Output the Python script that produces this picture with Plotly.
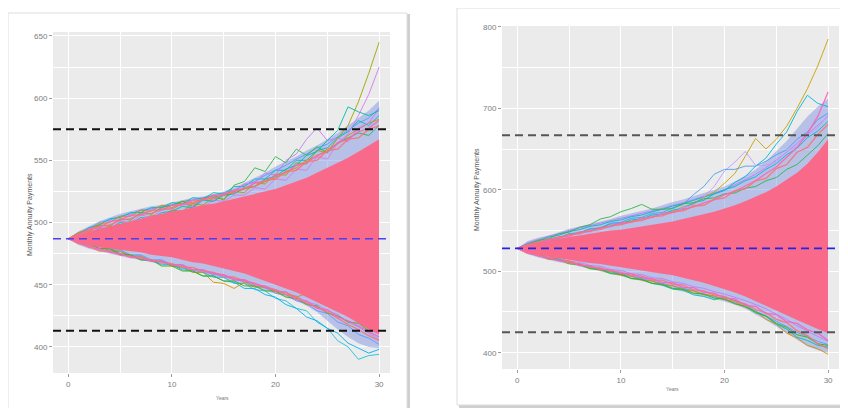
import plotly.graph_objects as go

W, H = 848, 408
years = list(range(31))

# ---------------- Left panel data ----------------
L_hline_hi, L_hline_lo, L_hline_mid = 575, 413, 487
L_core_up = [487, 490, 493, 495, 497, 499, 501, 503, 505, 507, 509, 510, 512, 514, 515, 517, 519, 521, 523, 525, 527, 530, 533, 536, 540, 544, 548, 552, 557, 562, 567]
L_core_lo = [487, 484, 482, 480, 479, 478, 477, 476, 474, 473, 472, 470, 468, 467, 465, 463, 461, 459, 456, 453, 450, 447, 444, 440, 436, 432, 428, 424, 419, 414, 410]
L_outer_up = [487, 493, 497, 501, 504, 507, 509, 511, 513, 514, 516, 518, 520, 521, 523, 525, 528, 532, 536, 540, 545, 549, 553, 558, 562, 567, 572, 578, 584, 590, 598]
L_outer_lo = [487, 482, 479, 477, 475, 473, 471, 470, 468, 467, 466, 463, 461, 459, 457, 455, 452, 450, 448, 445, 443, 440, 437, 433, 428, 421, 414, 408, 403, 400, 399]
L_green = [487, 491, 493, 498, 497, 503, 502, 508, 507, 512, 514, 517, 513, 519, 522, 518, 530, 533, 544, 541, 553, 548, 559, 554, 561, 556, 564, 568, 572, 570, 578]
L_purple = [487, 490, 491, 496, 495, 501, 500, 506, 504, 510, 511, 515, 513, 519, 517, 524, 525, 531, 532, 540, 538, 550, 555, 567, 576, 566, 568, 565, 576, 580, 592]
L_olive = [487, 489, 492, 493, 497, 496, 501, 500, 506, 505, 510, 509, 515, 514, 520, 519, 525, 524, 532, 531, 539, 538, 548, 547, 558, 556, 568, 578, 597, 620, 645]
L_violet = [487, 488, 492, 491, 496, 495, 500, 501, 505, 504, 509, 508, 513, 512, 518, 517, 522, 522, 528, 527, 535, 534, 543, 542, 553, 551, 564, 571, 586, 603, 625]
L_teal = [487, 490, 491, 495, 494, 500, 499, 504, 503, 508, 509, 513, 512, 518, 517, 522, 523, 528, 529, 535, 537, 543, 546, 554, 557, 566, 574, 593, 589, 586, 590]
L_blue_hi = [487, 492, 495, 500, 502, 505, 507, 510, 511, 513, 514, 517, 518, 520, 521, 524, 526, 530, 533, 538, 542, 546, 551, 555, 560, 563, 569, 574, 580, 584, 592]
L_teal_hi = [487, 491, 496, 498, 503, 504, 508, 508, 512, 512, 516, 515, 520, 519, 524, 523, 529, 529, 535, 535, 542, 542, 550, 550, 558, 560, 568, 573, 582, 578, 586]
L_orange_hi = [487, 492, 494, 499, 500, 505, 505, 510, 509, 514, 512, 517, 516, 519, 520, 522, 524, 527, 529, 533, 536, 541, 544, 550, 553, 559, 563, 570, 575, 580, 583]
L_cyan_lo = [487, 485, 482, 482, 477, 477, 473, 473, 469, 469, 465, 464, 460, 460, 456, 456, 451, 451, 446, 445, 439, 437, 431, 429, 420, 415, 405, 400, 390, 393, 394]
L_cyan2_lo = [487, 484, 483, 479, 479, 474, 474, 470, 470, 466, 466, 462, 461, 457, 457, 453, 452, 447, 447, 442, 440, 434, 431, 424, 421, 415, 411, 403, 399, 395, 398]
L_orange_lo = [487, 485, 481, 481, 477, 477, 473, 473, 469, 469, 465, 465, 460, 460, 452, 451, 447, 452, 448, 448, 444, 444, 440, 443, 437, 435, 429, 428, 422, 420, 416]
L_blue_lo = [487, 486, 482, 482, 478, 478, 474, 474, 470, 470, 466, 466, 462, 462, 458, 458, 454, 453, 449, 448, 443, 442, 437, 435, 429, 427, 420, 417, 410, 407, 402]
L_green_lo = [487, 484, 483, 479, 479, 475, 474, 470, 470, 465, 465, 461, 461, 457, 457, 453, 453, 449, 449, 445, 445, 440, 439, 434, 433, 427, 425, 420, 419, 413, 412]
L_purple_lo = [487, 483, 481, 478, 477, 474, 473, 470, 469, 467, 466, 463, 462, 460, 459, 456, 455, 452, 451, 447, 446, 442, 441, 436, 434, 429, 426, 420, 416, 411, 406]
L_pink_hi = [487, 490, 495, 496, 501, 502, 506, 506, 510, 510, 514, 514, 518, 518, 522, 522, 526, 527, 532, 533, 538, 540, 546, 548, 554, 557, 564, 567, 573, 576, 582]
L_pink_hi2 = [487, 491, 493, 497, 498, 502, 503, 507, 507, 511, 511, 515, 515, 519, 519, 523, 524, 528, 529, 534, 535, 541, 542, 549, 550, 558, 559, 567, 568, 575, 578]
L_pink_lo = [487, 483, 481, 477, 477, 474, 473, 471, 470, 468, 467, 464, 464, 461, 460, 457, 456, 453, 451, 448, 446, 442, 440, 435, 432, 428, 423, 418, 414, 409, 405]
L_pink_lo2 = [487, 484, 480, 479, 476, 475, 472, 472, 469, 469, 466, 466, 462, 462, 459, 458, 454, 454, 450, 449, 445, 444, 438, 437, 431, 430, 424, 421, 417, 412, 408]

# ---------------- Right panel data ----------------
R_hline_hi, R_hline_lo, R_hline_mid = 667, 425, 528
R_core_up = [528, 532, 535, 538, 540, 542, 544, 546, 548, 550, 551, 553, 555, 557, 559, 561, 564, 567, 570, 573, 577, 581, 586, 591, 597, 604, 612, 621, 632, 646, 662]
R_core_lo = [528, 523, 520, 518, 516, 514, 512, 510, 509, 507, 505, 503, 501, 499, 497, 495, 492, 489, 486, 482, 478, 474, 469, 464, 458, 452, 446, 440, 434, 429, 424]
R_outer_up = [528, 537, 541, 544, 548, 552, 555, 558, 561, 564, 568, 571, 574, 577, 581, 585, 588, 592, 596, 600, 604, 610, 617, 625, 635, 648, 660, 675, 690, 702, 712]
R_outer_lo = [528, 521, 517, 514, 511, 509, 506, 503, 500, 497, 494, 491, 488, 485, 482, 478, 475, 472, 469, 466, 463, 459, 454, 447, 440, 433, 425, 416, 408, 403, 400]
R_yellow = [528, 531, 536, 537, 542, 543, 548, 549, 554, 555, 560, 561, 566, 566, 571, 573, 579, 582, 591, 597, 608, 620, 641, 663, 650, 662, 678, 700, 724, 752, 785]
R_cyan = [528, 533, 535, 540, 541, 546, 547, 552, 553, 558, 558, 563, 564, 569, 570, 575, 577, 584, 587, 595, 599, 609, 616, 629, 639, 656, 671, 696, 716, 706, 702]
R_lavender = [528, 531, 535, 536, 541, 542, 547, 548, 553, 554, 559, 560, 565, 566, 571, 572, 578, 581, 591, 604, 623, 634, 647, 630, 630, 634, 647, 653, 667, 676, 692]
R_blue = [528, 533, 534, 539, 540, 546, 547, 552, 553, 559, 560, 565, 566, 571, 572, 578, 582, 594, 604, 619, 625, 625, 629, 629, 635, 643, 649, 662, 671, 686, 694]
R_green = [528, 533, 538, 540, 546, 548, 554, 557, 564, 567, 573, 577, 582, 576, 576, 577, 583, 584, 589, 590, 595, 596, 602, 604, 611, 615, 625, 631, 643, 654, 669]
R_purple_hi = [528, 535, 539, 543, 546, 550, 553, 556, 559, 562, 565, 568, 571, 574, 577, 581, 584, 588, 592, 596, 600, 606, 612, 619, 627, 636, 646, 657, 668, 680, 690]
R_teal_hi = [528, 534, 537, 542, 544, 549, 551, 555, 557, 561, 563, 567, 569, 573, 576, 580, 583, 587, 591, 595, 600, 604, 611, 616, 625, 632, 643, 651, 664, 672, 684]
R_orange_lo = [528, 524, 520, 519, 514, 513, 508, 506, 501, 500, 495, 494, 489, 488, 483, 482, 477, 476, 471, 470, 465, 463, 456, 451, 441, 435, 424, 418, 409, 405, 398]
R_cyan_lo = [528, 524, 521, 516, 515, 510, 509, 504, 503, 498, 497, 491, 490, 485, 483, 478, 477, 471, 469, 465, 468, 464, 459, 450, 445, 435, 429, 419, 415, 409, 407]
R_green_lo = [528, 523, 520, 515, 514, 509, 508, 503, 502, 497, 496, 491, 490, 485, 484, 479, 478, 473, 472, 467, 466, 460, 457, 449, 445, 436, 431, 422, 419, 411, 409]
R_blue_lo = [528, 522, 519, 516, 513, 511, 508, 505, 503, 500, 497, 494, 491, 488, 485, 482, 479, 476, 472, 469, 465, 461, 456, 451, 445, 439, 432, 425, 419, 414, 410]
R_purple_lo = [528, 523, 521, 517, 516, 512, 511, 507, 506, 502, 501, 497, 496, 492, 491, 487, 485, 481, 479, 475, 472, 468, 464, 459, 454, 447, 441, 433, 426, 420, 414]
R_pink_hi = [528, 532, 536, 537, 542, 543, 548, 549, 553, 555, 559, 560, 564, 566, 570, 572, 576, 579, 584, 588, 594, 598, 605, 611, 620, 628, 640, 652, 669, 690, 720]
R_pink_hi2 = [528, 533, 535, 540, 541, 545, 546, 550, 551, 556, 557, 561, 562, 567, 568, 573, 574, 580, 581, 588, 590, 599, 601, 611, 614, 626, 631, 646, 652, 668, 680]
R_pink_lo = [528, 522, 520, 515, 514, 510, 509, 505, 504, 500, 499, 495, 494, 489, 489, 484, 483, 477, 476, 471, 469, 463, 460, 453, 449, 441, 437, 427, 421, 411, 405]
R_pink_lo2 = [528, 523, 519, 517, 513, 512, 507, 507, 502, 502, 497, 497, 492, 491, 486, 486, 480, 480, 474, 473, 467, 466, 458, 457, 448, 447, 438, 436, 428, 424, 415]

L_yticks = [400, 450, 500, 550, 600, 650]
R_yticks = [400, 500, 600, 700, 800]
x_ticks = [0, 10, 20, 30]
y_title = "Monthly Annuity Payments"
x_title = "Years"

CORE = "#F96A8A"
FRINGE = "rgba(120,140,225,0.45)"

fig = go.Figure()

def band(up, lo, color, xa, ya):
    fig.add_trace(go.Scatter(x=years + years[::-1], y=up + lo[::-1], fill="toself",
                             fillcolor=color, line=dict(width=0), mode="lines",
                             hoverinfo="skip", showlegend=False, xaxis=xa, yaxis=ya))

def path(vals, color, xa, ya, w=1.0, op=0.9):
    fig.add_trace(go.Scatter(x=years, y=vals, mode="lines", line=dict(color=color, width=w),
                             opacity=op, hoverinfo="skip", showlegend=False, xaxis=xa, yaxis=ya))

# left panel
band(L_outer_up, L_outer_lo, FRINGE, "x", "y")
for vals, col in [(L_blue_hi, "#619CFF"), (L_teal_hi, "#00BFC4"), (L_orange_hi, "#E58700"),
                  (L_green, "#2DB84B"), (L_purple, "#C77CFF"), (L_olive, "#A3A500"), (L_violet, "#D77BF0"),
                  (L_teal, "#00BFA8"), (L_purple_lo, "#B983FF"), (L_cyan_lo, "#1FC3D8"), (L_cyan2_lo, "#00B0F6"),
                  (L_orange_lo, "#D89000"), (L_blue_lo, "#619CFF"), (L_green_lo, "#39B600")]:
    path(vals, col, "x", "y")
band(L_core_up, L_core_lo, CORE, "x", "y")
for vals, col in [(L_pink_hi, "#FF62BC"), (L_pink_hi2, "#F8766D"), (L_pink_lo, "#F8766D"), (L_pink_lo2, "#FF62BC")]:
    path(vals, col, "x", "y", 1.3, 0.9)

# right panel
band(R_outer_up, R_outer_lo, FRINGE, "x2", "y2")
for vals, col in [(R_purple_hi, "#C77CFF"), (R_teal_hi, "#00BFC4"),
                  (R_yellow, "#C9A300"), (R_cyan, "#00B8E0"), (R_lavender, "#C59BFF"), (R_blue, "#4FA0F0"),
                  (R_green, "#2DB84B"), (R_blue_lo, "#619CFF"), (R_purple_lo, "#B983FF"),
                  (R_orange_lo, "#D89000"), (R_cyan_lo, "#00BFC4"), (R_green_lo, "#39B600")]:
    path(vals, col, "x2", "y2")
band(R_core_up, R_core_lo, CORE, "x2", "y2")
for vals, col in [(R_pink_hi, "#FF62BC"), (R_pink_hi2, "#F8766D"), (R_pink_lo, "#F8766D"), (R_pink_lo2, "#FF62BC")]:
    path(vals, col, "x2", "y2", 1.3, 0.9)

# the page body adds an 8px margin, so window pixels are offset by 8
OFF = 8

def px(x):
    return (x - OFF) / W

def py(y):
    return 1 - (y - OFF) / H

shapes = []
# cards with shadows
for (x0, y0, x1, y1) in [(8, 13, 407, 412), (457, 8, 846, 405)]:
    shapes.append(dict(type="rect", xref="paper", yref="paper", x0=px(x0 + 2), x1=px(x1 + 3),
                       y0=py(y1 + 3), y1=py(y0 + 1), fillcolor="#cfcfcf", line=dict(width=0), layer="below"))
    shapes.append(dict(type="rect", xref="paper", yref="paper", x0=px(x0), x1=px(x1),
                       y0=py(y1), y1=py(y0), fillcolor="white", line=dict(color="#dddddd", width=1), layer="below"))
# panel backgrounds
for xr, yr in [("x", "y"), ("x2", "y2")]:
    shapes.append(dict(type="rect", xref=xr + " domain", yref=yr + " domain", x0=0, x1=1, y0=0, y1=1,
                       fillcolor="#EBEBEB", line=dict(width=0), layer="below"))
# reference lines
for yv, col, wd, xr, yr in [(L_hline_hi, "#111111", 2, "x", "y"), (L_hline_lo, "#111111", 2, "x", "y"),
                            (L_hline_mid, "#4B3FF0", 1.6, "x", "y"),
                            (R_hline_hi, "#555555", 2, "x2", "y2"), (R_hline_lo, "#555555", 2, "x2", "y2"),
                            (R_hline_mid, "#2424E8", 1.6, "x2", "y2")]:
    shapes.append(dict(type="line", xref=xr + " domain", yref=yr, x0=0, x1=1, y0=yv, y1=yv,
                       line=dict(color=col, width=wd, dash="8px,5px")))

font = "Liberation Sans, Arial, sans-serif"
tickfont = dict(family=font, size=8, color="#7d7d7d")

def xaxis(domain, anchor):
    return dict(domain=domain, anchor=anchor, range=[-1.48, 31.05], tickvals=x_ticks, ticks="outside", ticklen=3,
                tickcolor="#9a9a9a", tickfont=tickfont, showgrid=True, gridcolor="white", gridwidth=1,
                minor=dict(tickvals=[5, 15, 25], showgrid=True, gridcolor="white", gridwidth=0.5, ticks=""),
                zeroline=False, showline=False, automargin=False)

def yaxis(domain, anchor, rng, ticks, minor):
    return dict(domain=domain, anchor=anchor, range=rng, tickvals=ticks, ticks="outside", ticklen=3,
                tickcolor="#9a9a9a", tickfont=tickfont, showgrid=True, gridcolor="white", gridwidth=1,
                minor=dict(tickvals=minor, showgrid=True, gridcolor="white", gridwidth=0.5, ticks=""),
                zeroline=False, showline=False, automargin=False)

fig.update_layout(
    width=W, height=H, margin=dict(l=0, r=0, t=0, b=0, pad=0),
    paper_bgcolor="white", plot_bgcolor="rgba(0,0,0,0)",
    xaxis=xaxis([px(53), px(390)], "y"),
    yaxis=yaxis([py(373), py(32)], "x", [379, 653.2], L_yticks, [425, 475, 525, 575, 625]),
    xaxis2=xaxis([px(502), px(839)], "y2"),
    yaxis2=yaxis([py(369), py(26)], "x2", [380, 801], R_yticks, [450, 550, 650, 750]),
    shapes=shapes,
    annotations=[
        dict(text=y_title, xref="paper", yref="paper", x=px(30), y=py(215), xanchor="center", yanchor="middle",
             textangle=-90, showarrow=False, font=dict(family=font, size=7, color="#555555")),
        dict(text=y_title, xref="paper", yref="paper", x=px(477), y=py(190), xanchor="center", yanchor="middle",
             textangle=-90, showarrow=False, font=dict(family=font, size=7, color="#555555")),
        dict(text=x_title, xref="paper", yref="paper", x=px(222), y=py(398), xanchor="center", yanchor="middle",
             showarrow=False, font=dict(family=font, size=5, color="#777777")),
        dict(text=x_title, xref="paper", yref="paper", x=px(672), y=py(389), xanchor="center", yanchor="middle",
             showarrow=False, font=dict(family=font, size=5, color="#777777")),
    ],
)

fig.write_html("out.html")
